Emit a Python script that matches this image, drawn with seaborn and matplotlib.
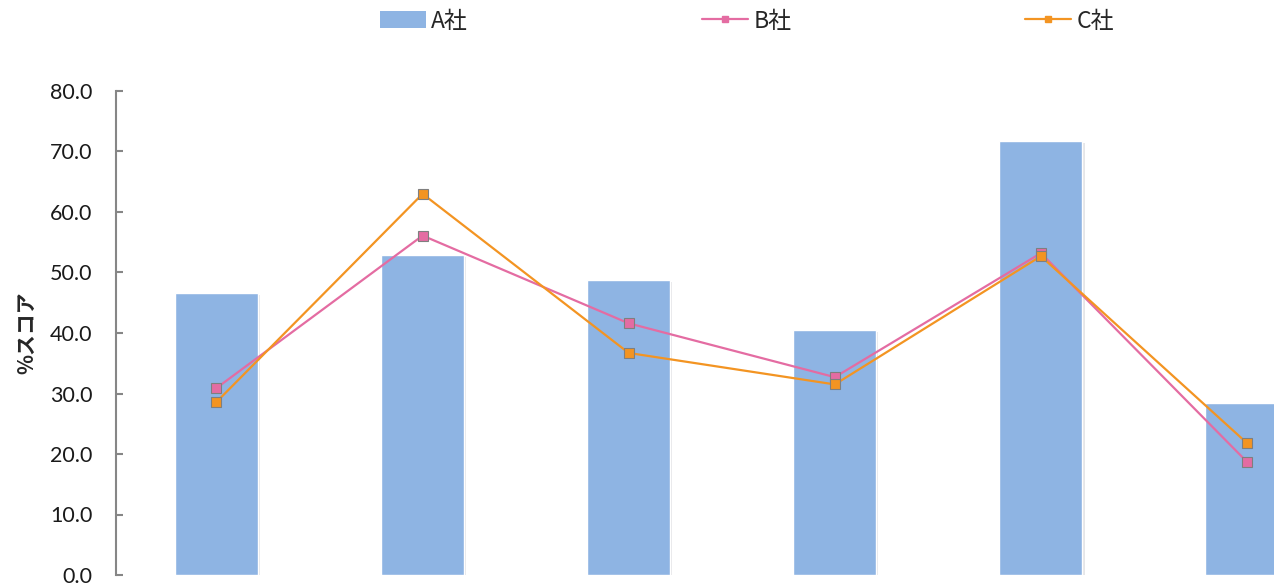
import numpy as np
import pandas as pd
import matplotlib
matplotlib.use("Agg")
import matplotlib.pyplot as plt
import matplotlib.patheffects as pe
from matplotlib.patches import Patch
from matplotlib.lines import Line2D
import seaborn as sns

# Scores per item (six items, left to right)
items = [0, 1, 2, 3, 4, 5]
score_a = [46.6, 52.9, 48.8, 40.5, 71.8, 28.4]
score_b = [30.9, 56.1, 41.6, 32.7, 53.2, 18.7]
score_c = [28.6, 63.0, 36.7, 31.5, 52.7, 21.8]
series_names = ["A社", "B社", "C社"]
y_ticks = [0, 10, 20, 30, 40, 50, 60, 70, 80]
y_label = "%スコア"

color_a = "#8EB4E3"
color_b = "#E46CA2"
color_c = "#F39422"

sns.set_theme(style="white")
plt.rcParams["font.family"] = ["Lato", "Noto Sans CJK JP", "DejaVu Sans"]

df = pd.DataFrame({"item": items, "A": score_a, "B": score_b, "C": score_c})

fig = plt.figure(figsize=(12.74, 5.83), dpi=100)
ax = fig.add_axes([116 / 1274, 8 / 583, 1 - 116 / 1274, (575 - 91) / 583])

sns.barplot(data=df, x="item", y="A", color=color_a, width=0.403,
            saturation=1, ax=ax, zorder=2)
for bar in ax.patches:
    bar.set_path_effects([pe.SimplePatchShadow(offset=(1.5, -1.5), alpha=0.12),
                          pe.Normal()])

for col, color in (("B", color_b), ("C", color_c)):
    sns.lineplot(data=df, x="item", y=col, color=color, linewidth=1.6,
                 marker="s", markersize=6.5, markeredgecolor="#7f7f7f",
                 markeredgewidth=0.8, ax=ax, zorder=3)

ax.set_xlim(-0.4876, 5.131)
ax.set_ylim(0, 80)
ax.set_yticks(y_ticks)
ax.set_yticklabels([f"{v:.1f}" for v in y_ticks], fontsize=15.5, color="#1a1a1a")
ax.set_xticks([])
ax.set_xlabel("")
ax.set_ylabel(y_label, fontsize=15, fontweight="bold",
              family=["Noto Sans CJK JP", "DejaVu Sans"], labelpad=9)
ax.tick_params(axis="y", direction="in", length=5, width=1.5,
               color="#868686", pad=17, left=True)
for side in ("top", "right", "bottom"):
    ax.spines[side].set_visible(False)
ax.spines["left"].set_color("#868686")
ax.spines["left"].set_linewidth(1.5)

handles = [
    Patch(facecolor=color_a, edgecolor="none"),
    Line2D([], [], color=color_b, linewidth=1.6, marker="s", markersize=5,
           markeredgecolor=color_b),
    Line2D([], [], color=color_c, linewidth=1.6, marker="s", markersize=5,
           markeredgecolor=color_c),
]
fig.legend(handles, series_names, loc="center", ncol=3, frameon=False,
           bbox_to_anchor=(747 / 1274, 1 - 21 / 583),
           prop={"family": ["Noto Sans CJK JP", "DejaVu Sans"], "size": 16.5},
           handlelength=2.0, handleheight=0.7, handletextpad=0.25,
           columnspacing=10.2)

fig.savefig("out.png", dpi=100)
